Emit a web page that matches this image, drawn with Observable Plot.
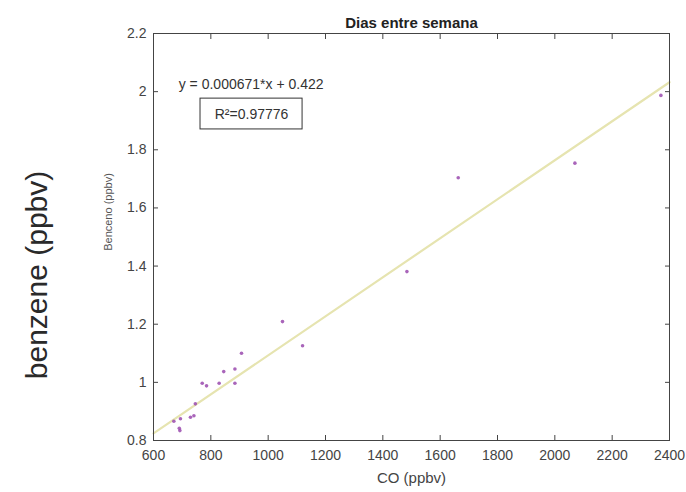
<!DOCTYPE html>
<html>
<head>
<meta charset="utf-8">
<script src="https://cdn.jsdelivr.net/npm/d3@7"></script>
<script src="https://cdn.jsdelivr.net/npm/@observablehq/plot@0.6"></script>
<style>
  html, body { margin: 0; padding: 0; background: #fff; }
  svg { display: block; }
</style>
</head>
<body>
<div id="chart"></div>
<script>
// Data
const co = [671, 694, 692, 690, 729, 741, 746, 770, 785, 829, 845, 884, 884, 907, 1050, 1120, 1484, 1663, 2070, 2370];
const benzene = [0.866, 0.875, 0.834, 0.842, 0.880, 0.885, 0.926, 0.997, 0.988, 0.997, 1.037, 1.046, 0.997, 1.100, 1.209, 1.126, 1.381, 1.704, 1.754, 1.987];
const xTicks = [600, 800, 1000, 1200, 1400, 1600, 1800, 2000, 2200, 2400];
const yTicks = [0.8, 1, 1.2, 1.4, 1.6, 1.8, 2, 2.2];
const slope = 0.000671;
const intercept = 0.422;
const r2 = "0.97776";
const title = "Dias entre semana";
const xLabel = "CO (ppbv)";
const yLabel = "Benceno (ppbv)";
const outerLabel = "benzene (ppbv)";

const points = co.map((x, i) => ({x, y: benzene[i]}));
const fitLine = [xTicks[0], xTicks[xTicks.length - 1]].map(x => ({x, y: slope * x + intercept}));
const eqText = `y = ${slope}*x + ${intercept}`;
const r2Text = `R²=${r2}`;

const font = "Liberation Sans, Arial, sans-serif";
const fmt = d => String(d);

const chart = Plot.plot({
  width: 686,
  height: 492,
  marginLeft: 153,
  marginRight: 17,
  marginTop: 33,
  marginBottom: 52,
  style: {fontFamily: font, color: "#333", background: "#fff"},
  x: {domain: [600, 2400]},
  y: {domain: [0.8, 2.2]},
  marks: [
    Plot.line(fitLine, {x: "x", y: "y", stroke: "#e6e4b0", strokeWidth: 2.2}),
    Plot.dot(points, {x: "x", y: "y", r: 1.8, fill: "#9a4aae", fillOpacity: 0.85}),
    Plot.frame({stroke: "#444", strokeWidth: 1}),
    // inward ticks, bottom/top/left/right
    Plot.axisX({ticks: xTicks, anchor: "bottom", tickSize: -5, tickFormat: () => "", label: null, stroke: "#444"}),
    Plot.axisX({ticks: xTicks, anchor: "top", tickSize: -5, tickFormat: () => "", label: null, stroke: "#444"}),
    Plot.axisY({ticks: yTicks, anchor: "left", tickSize: -5, tickFormat: () => "", label: null, stroke: "#444"}),
    Plot.axisY({ticks: yTicks, anchor: "right", tickSize: -5, tickFormat: () => "", label: null, stroke: "#444"}),
    // tick labels
    Plot.axisX({ticks: xTicks, anchor: "bottom", tickSize: 0, tickPadding: 10, tickFormat: fmt, fontSize: 14, fill: "#444", label: null}),
    Plot.axisY({ticks: yTicks, anchor: "left", tickSize: 0, tickPadding: 7, tickFormat: fmt, fontSize: 14, fill: "#444", label: null}),
    // axis titles
    Plot.text([xLabel], {frameAnchor: "bottom", dy: 42, fontSize: 15, fill: "#444"}),
    Plot.text([yLabel], {frameAnchor: "left", textAnchor: "middle", rotate: -90, dx: -45, dy: -25, fontSize: 11, fill: "#555"}),
    Plot.text([outerLabel], {frameAnchor: "left", textAnchor: "middle", rotate: -90, dx: -116, dy: 38, fontSize: 30, fill: "#2a2a2a"}),
    Plot.text([title], {frameAnchor: "top", dy: -16, fontSize: 15, fontWeight: "bold", fill: "#222"}),
    // regression annotation
    Plot.text([eqText], {x: 688, y: 2.024, textAnchor: "start", fontSize: 14, fill: "#333"}),
    Plot.rect([{x1: 764, x2: 1120, y1: 1.870, y2: 1.976}], {x1: "x1", x2: "x2", y1: "y1", y2: "y2", fill: "none", stroke: "#333", strokeWidth: 1}),
    Plot.text([r2Text], {x: 942, y: 1.923, fontSize: 14, fill: "#333"})
  ]
});
document.getElementById("chart").appendChild(chart);
</script>
</body>
</html>
